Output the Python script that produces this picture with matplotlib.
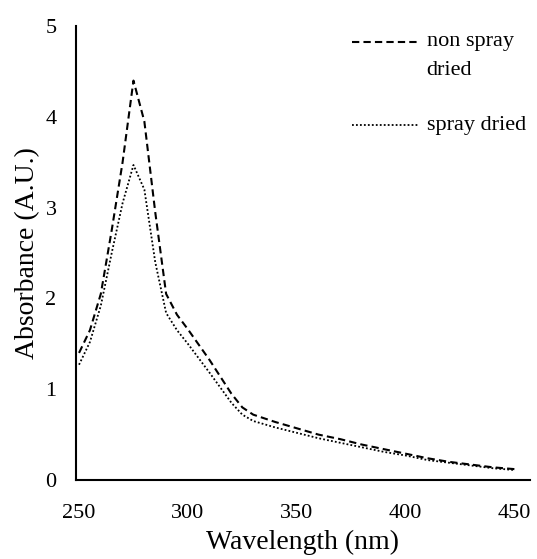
import matplotlib
matplotlib.use("Agg")
import matplotlib.pyplot as plt
from matplotlib.lines import Line2D

# absorbance spectra, 250-450 nm
wavelength = [250, 255, 260, 265, 270, 275, 280, 285, 290, 295, 300, 310, 320, 325,
              330, 340, 350, 360, 370, 380, 390, 400, 410, 420, 430, 440, 450]
non_spray = [1.40, 1.65, 2.05, 2.75, 3.50, 4.40, 3.95, 2.95, 2.05, 1.82, 1.66, 1.32, 0.95, 0.80,
             0.72, 0.64, 0.57, 0.50, 0.45, 0.39, 0.34, 0.29, 0.24, 0.20, 0.17, 0.14, 0.12]
spray = [1.27, 1.52, 1.92, 2.50, 3.05, 3.47, 3.20, 2.40, 1.84, 1.65, 1.50, 1.18, 0.85, 0.72,
         0.65, 0.58, 0.52, 0.46, 0.41, 0.36, 0.31, 0.27, 0.22, 0.19, 0.16, 0.13, 0.11]
xticks = [250, 300, 350, 400, 450]
yticks = [0, 1, 2, 3, 4, 5]

plt.rcParams['font.family'] = ['Liberation Serif', 'DejaVu Serif']

dash_style = (0, (3.5, 2))
dot_style = (0, (1, 1.2))

fig = plt.figure(figsize=(5.37, 5.59), dpi=100)
ax = fig.add_axes([0.1415, 0.1413, 0.845, 0.812])

ax.plot(wavelength, non_spray, color='black', linewidth=1.5, linestyle=dash_style)
ax.plot(wavelength, spray, color='black', linewidth=1.3, linestyle=dot_style)

ax.set_xlim(248.6, 457)
ax.set_ylim(0, 5)
ax.set_xticks(xticks)
ax.set_yticks(yticks)
ax.tick_params(length=0, labelsize=16)
ax.tick_params(axis='x', pad=17)
ax.tick_params(axis='y', pad=14)

for s in ['top', 'right']:
    ax.spines[s].set_visible(False)
for s in ['left', 'bottom']:
    ax.spines[s].set_linewidth(1.5)

ax.set_xlabel('Wavelength (nm)', fontsize=20, labelpad=5)
ax.set_ylabel('Absorbance (A.U.)', fontsize=20, labelpad=4)

# legend drawn by hand: label text is top-aligned with its line sample
tr = ax.transAxes
ax.add_line(Line2D([0.608, 0.753], [0.965, 0.965], transform=tr, color='black',
                   linewidth=1.5, linestyle=dash_style, clip_on=False))
ax.text(0.773, 0.965, 'non spray', transform=tr, fontsize=16, va='center')
ax.text(0.773, 0.903, 'dried', transform=tr, fontsize=16, va='center')
ax.add_line(Line2D([0.608, 0.753], [0.782, 0.782], transform=tr, color='black',
                   linewidth=1.3, linestyle=dot_style, clip_on=False))
ax.text(0.773, 0.782, 'spray dried', transform=tr, fontsize=16, va='center')

fig.savefig('out.png', dpi=100)
